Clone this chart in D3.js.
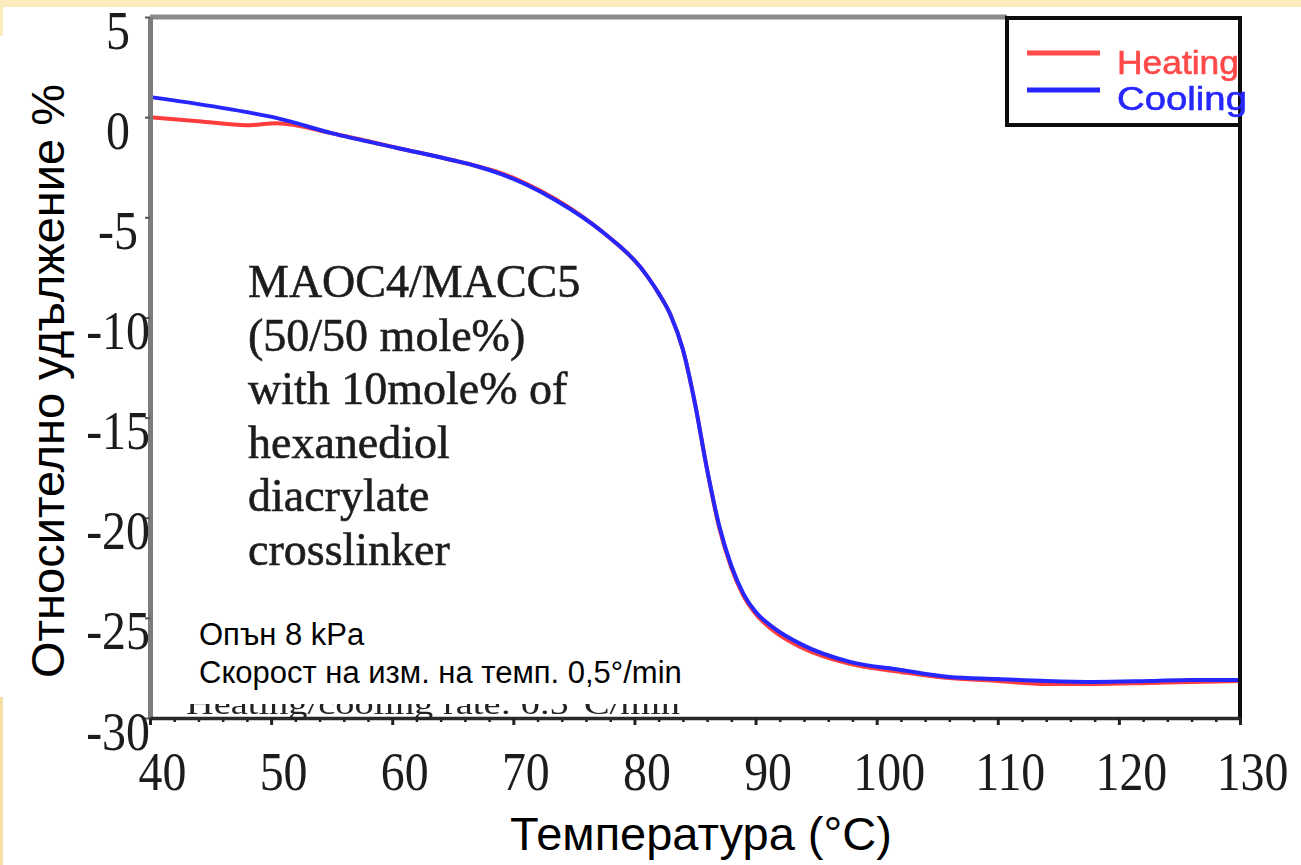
<!DOCTYPE html>
<html>
<head>
<meta charset="utf-8">
<script src="https://cdn.jsdelivr.net/npm/d3@7"></script>
<style>
    body { margin: 0; background: #ffffff; }
    svg { display: block; }
</style>
</head>
<body>
<div id="chart"></div>
<script>
// Data
const temps   = [40, 44, 48, 50.5, 55, 60.5, 65, 67, 69, 71, 73.5, 77.5, 80.5, 82, 83, 84, 85, 86, 87, 88, 89, 90, 91.5, 93.7, 97.8, 102, 106, 110, 114, 118, 122.5, 126, 130];
const cooling = [1.0, 0.65, 0.25, -0.05, -0.8, -1.55, -2.15, -2.45, -2.85, -3.35, -4.15, -5.8, -7.5, -8.8, -9.9, -11.6, -14.3, -17.6, -20.4, -22.4, -23.8, -24.7, -25.5, -26.3, -27.2, -27.6, -27.95, -28.05, -28.15, -28.2, -28.15, -28.1, -28.1];
const heating = [0.0, -0.2, -0.4, -0.3, -0.8, -1.55, -2.15, -2.45, -2.8, -3.3, -4.1, -5.8, -7.5, -8.8, -9.9, -11.6, -14.3, -17.6, -20.5, -22.5, -23.9, -24.8, -25.65, -26.45, -27.3, -27.7, -28.0, -28.15, -28.3, -28.3, -28.25, -28.2, -28.15];

const xTicks = [40, 50, 60, 70, 80, 90, 100, 110, 120, 130];
const xMinor = [42, 44, 46, 48, 52, 54, 56, 58, 62, 64, 66, 68, 72, 74, 76, 78, 82, 84, 86, 88, 92, 94, 96, 98, 102, 104, 106, 108, 112, 114, 116, 118, 122, 124, 126, 128];
const yTicks = [5, 0, -5, -10, -15, -20, -25, -30];

const seriesNames = ["Heating", "Cooling"];
const noteLines = ["MAOC4/MACC5", "(50/50 mole%)", "with 10mole% of", "hexanediol", "diacrylate", "crosslinker"];
const rateNote = "Heating/cooling rate: 0.5°C/min";
const bgNotes = ["Опън 8 kPa", "Скорост на изм. на темп. 0,5°/min"];

const W = 1301, H = 865;
const plot = { left: 150, right: 1240, top: 17, bottom: 718 };

const serif = "'Liberation Serif', 'Times New Roman', serif";
const sans = "'Liberation Sans', Arial, sans-serif";

const svg = d3.select("#chart").append("svg")
    .attr("width", W)
    .attr("height", H);

// blur filter to soften the scanned-figure look
svg.append("defs").append("filter")
    .attr("id", "soft")
    .append("feGaussianBlur")
    .attr("stdDeviation", 0.6);

// --- Slide background strips ---
svg.append("rect").attr("x", 0).attr("y", 0).attr("width", W).attr("height", 7).attr("fill", "#fcebbd");
svg.append("rect").attr("x", 0).attr("y", 0).attr("width", 3).attr("height", 36).attr("fill", "#fcebbd");
svg.append("rect").attr("x", 0).attr("y", 697).attr("width", 3).attr("height", H - 697).attr("fill", "#f6dfa4");

// --- Scales ---
const x = d3.scaleLinear().domain([40, 130]).range([plot.left, plot.right]);
const y = d3.scaleLinear().domain([-30, 5]).range([plot.bottom, plot.top]);

const fig = svg.append("g").attr("filter", "url(#soft)");

// Curves
const line = d3.line()
    .x((d, i) => x(temps[i]))
    .y(d => y(d))
    .curve(d3.curveMonotoneX);

fig.append("path")
    .datum(heating)
    .attr("fill", "none")
    .attr("stroke", "#ff3d3d")
    .attr("stroke-width", 4)
    .attr("d", line);

fig.append("path")
    .datum(cooling)
    .attr("fill", "none")
    .attr("stroke", "#2626ff")
    .attr("stroke-width", 4)
    .attr("d", line);

// Top border (grey)
fig.append("line")
    .attr("x1", plot.left).attr("x2", 1007)
    .attr("y1", plot.top).attr("y2", plot.top)
    .attr("stroke", "#8a8a8a").attr("stroke-width", 5);

// Right border (black)
fig.append("line")
    .attr("x1", plot.right).attr("x2", plot.right)
    .attr("y1", plot.top).attr("y2", plot.bottom)
    .attr("stroke", "#111").attr("stroke-width", 4);

// Y axis
const yAxis = fig.append("g")
    .attr("transform", `translate(${plot.left},0)`)
    .call(d3.axisLeft(y).tickValues(yTicks).tickSize(5).tickSizeOuter(0).tickFormat(d => String(d)));
yAxis.select(".domain").attr("stroke", "#7c7c7c").attr("stroke-width", 5);
yAxis.selectAll(".tick line").attr("stroke", "#555").attr("stroke-width", 2);
yAxis.selectAll(".tick text")
    .attr("x", -32 / 0.87)
    .attr("dy", 31)
    .attr("text-anchor", "middle")
    .attr("transform", "scale(0.87,1)")
    .style("font-family", serif)
    .style("font-size", "55px")
    .attr("fill", "#1a1a1a");

// X axis minor ticks
const xMinorAxis = fig.append("g")
    .attr("transform", `translate(0,${plot.bottom})`)
    .call(d3.axisBottom(x).tickValues(xMinor).tickSize(4).tickFormat(""));
xMinorAxis.select(".domain").remove();
xMinorAxis.selectAll(".tick line").attr("stroke", "#222").attr("stroke-width", 2.5);

// X axis major ticks
const xAxis = fig.append("g")
    .attr("transform", `translate(0,${plot.bottom})`)
    .call(d3.axisBottom(x).tickValues(xTicks).tickSize(7).tickSizeOuter(0));
xAxis.select(".domain").attr("stroke", "#2a2a2a").attr("stroke-width", 3.5);
xAxis.selectAll(".tick line").attr("stroke", "#222").attr("stroke-width", 3);
xAxis.selectAll(".tick text")
    .attr("x", 12 / 0.87)
    .attr("y", 0)
    .attr("dy", 72)
    .attr("transform", "scale(0.87,1)")
    .style("font-family", serif)
    .style("font-size", "55px")
    .attr("fill", "#1a1a1a");

// Sample annotation (serif)
const note = fig.append("text")
    .attr("x", 248)
    .attr("y", 297)
    .style("font-family", serif)
    .style("font-size", "46px")
    .attr("fill", "#1e1e1e")
    .attr("stroke", "#1e1e1e")
    .attr("stroke-width", 0.6);
noteLines.forEach((t, i) => {
    note.append("tspan").attr("x", 248).attr("y", 297 + i * 53.5).text(t);
});

// Original rate note, mostly hidden by the pasted box
fig.append("text")
    .attr("x", 186)
    .attr("y", 714)
    .attr("textLength", 494)
    .attr("lengthAdjust", "spacingAndGlyphs")
    .style("font-family", serif)
    .style("font-size", "30px")
    .attr("fill", "#222")
    .text(rateNote);

// Legend
const legend = fig.append("g");
legend.append("rect")
    .attr("x", 1007).attr("y", 18)
    .attr("width", 233).attr("height", 107)
    .attr("fill", "#fff")
    .attr("stroke", "#111").attr("stroke-width", 4);

const legendColors = ["#ff4a4a", "#2626ff"];
seriesNames.forEach((name, i) => {
    legend.append("line")
        .attr("x1", 1027).attr("x2", 1100)
        .attr("y1", 53 + i * 37).attr("y2", 53 + i * 37)
        .attr("stroke", legendColors[i])
        .attr("stroke-width", 5);
    legend.append("text")
        .attr("x", 1117)
        .attr("y", 74 + i * 36)
        .attr("textLength", i === 0 ? 122 : 130)
        .attr("lengthAdjust", "spacingAndGlyphs")
        .style("font-family", sans)
        .style("font-size", "33px")
        .attr("fill", legendColors[i])
        .attr("stroke", legendColors[i])
        .attr("stroke-width", 0.6)
        .text(name);
});

// --- Pasted Bulgarian labels ---
svg.append("rect")
    .attr("x", 182).attr("y", 602)
    .attr("width", 520).attr("height", 102)
    .attr("fill", "#fff");

bgNotes.forEach((t, i) => {
    svg.append("text")
        .attr("x", 199)
        .attr("y", 645 + i * 38)
        .style("font-family", sans)
        .style("font-size", "31px")
        .attr("fill", "#000")
        .text(t);
});

// Axis titles
svg.append("text")
    .attr("transform", "translate(64,381) rotate(-90)")
    .attr("text-anchor", "middle")
    .style("font-family", sans)
    .style("font-size", "47px")
    .attr("fill", "#000")
    .text("Относително удължение %");

svg.append("text")
    .attr("x", 701)
    .attr("y", 850)
    .attr("text-anchor", "middle")
    .style("font-family", sans)
    .style("font-size", "47px")
    .attr("fill", "#000")
    .text("Температура (°C)");
</script>
</body>
</html>
